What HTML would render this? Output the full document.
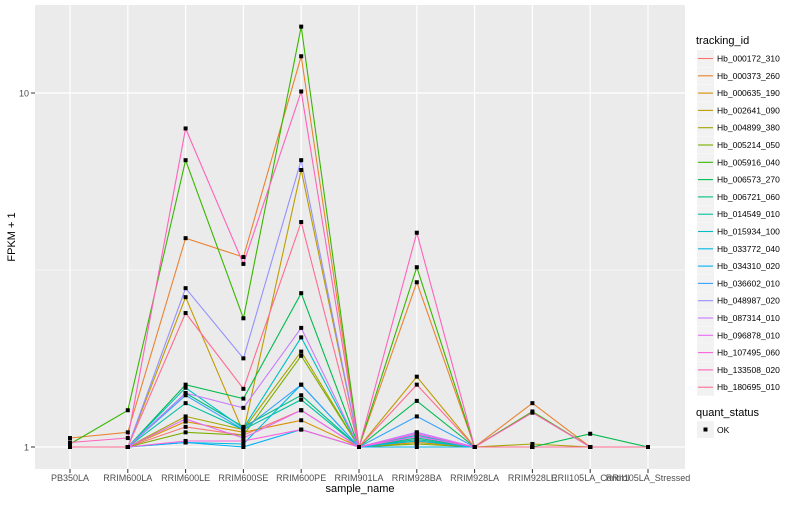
<!DOCTYPE html>
<html><head><meta charset="utf-8"><style>
body{margin:0;background:#fff;font-family:"Liberation Sans",sans-serif;}
svg text{font-family:"Liberation Sans",sans-serif;}
</style></head><body>
<svg id="chart" width="800" height="500" xmlns="http://www.w3.org/2000/svg">
<rect x="0" y="0" width="800" height="500" fill="#fff"/>
<rect x="35" y="5" width="650" height="464" fill="#EBEBEB"/>
<g id="grid"></g><g id="lines"></g><g id="pts"></g><g id="axes"></g><g id="legend"></g>
</svg>
<script>
const categories=["PB350LA","RRIM600LA","RRIM600LE","RRIM600SE","RRIM600PE","RRIM901LA","RRIM928BA","RRIM928LA","RRIM928LE","RRII105LA_Control","RRII105LA_Stressed"];
const seriesNames=["Hb_000172_310","Hb_000373_260","Hb_000635_190","Hb_002641_090","Hb_004899_380","Hb_005214_050","Hb_005916_040","Hb_006573_270","Hb_006721_060","Hb_014549_010","Hb_015934_100","Hb_033772_040","Hb_034310_020","Hb_036602_010","Hb_048987_020","Hb_087314_010","Hb_096878_010","Hb_107495_060","Hb_133508_020","Hb_180695_010"];
const colors=["#F8766D","#EA8331","#D89000","#C09B00","#A3A500","#7CAE00","#39B600","#00BB4E","#00BF7D","#00C1A3","#00BFC4","#00BAE0","#00B0F6","#35A2FF","#9590FF","#C77CFF","#E76BF3","#FA62DB","#FF62BC","#FF6C91"];
const s00=[1,1,1.14,1.08,1.27,1,1.05,1,1,1,1];
const s01=[1.06,1.10,3.89,3.44,12.7,1,2.92,1,1.33,1,1];
const s02=[1,1,1.18,1.10,1.19,1,1.03,1,1,1,1];
const s03=[1,1,2.65,1.10,6.06,1,1.58,1,1,1,1];
const s04=[1,1,1.22,1.12,1.86,1,1.04,1,1.02,1,1];
const s05=[1,1,1.10,1.08,1.81,1,1.02,1,1,1,1];
const s06=[1.02,1.27,6.46,2.31,15.4,1,3.22,1,1.26,1,1];
const s07=[1,1,1.50,1.37,2.72,1,1.35,1,1,1.09,1];
const s08=[1,1,1.42,1.14,1.40,1,1.06,1,1,1,1];
const s09=[1,1,1.33,1.12,1.36,1,1.05,1,1,1,1];
const s10=[1,1,1.47,1.13,2.04,1,1.08,1,1,1,1];
const s11=[1,1,1.03,1.02,1.50,1,1.04,1,1,1,1];
const s12=[1,1,1.03,1.0,1.12,1,1.0,1,1,1,1];
const s13=[1,1,1.40,1.12,1.50,1,1.22,1,1,1,1];
const s14=[1,1,2.81,1.78,6.46,1,1.10,1,1,1,1];
const s15=[1,1,1.42,1.29,2.17,1,1.10,1,1,1,1];
const s16=[1,1,1.20,1.06,1.27,1,1.07,1,1,1,1];
const s17=[1,1,1.04,1.04,1.12,1,1.09,1,1,1,1];
const s18=[1.03,1.06,7.94,3.29,10.1,1,4.03,1,1.25,1,1];
const s19=[1,1,2.39,1.46,4.32,1,1.50,1,1,1,1];
const seriesValues=[s00,s01,s02,s03,s04,s05,s06,s07,s08,s09,s10,s11,s12,s13,s14,s15,s16,s17,s18,s19];
const yTicks=[1,10];
const yMinor=[3.1623];
const NS="http://www.w3.org/2000/svg";
function xs(i){return 70+57.8*i;}
function ys(v){return 447-354*Math.log10(v);}
function mk(tag,attrs,parent){const e=document.createElementNS(NS,tag);for(const k in attrs)e.setAttribute(k,attrs[k]);document.getElementById(parent).appendChild(e);return e;}
yMinor.forEach(v=>{const l=mk('line',{x1:35,x2:685,y1:ys(v),y2:ys(v),stroke:'#fff','stroke-width':0.6},'grid');

});
yTicks.forEach(v=>{const l=mk('line',{x1:35,x2:685,y1:ys(v),y2:ys(v),stroke:'#fff','stroke-width':1.2},'grid');


const t=mk('line',{x1:31,x2:35,y1:ys(v),y2:ys(v),stroke:'#333','stroke-width':1},'axes');


const tx=mk('text',{x:29,y:ys(v)+3.5,'text-anchor':'end','font-size':9,fill:'#4d4d4d'},'axes');tx.textContent=String(v);

});
categories.forEach((c,i)=>{const l=mk('line',{x1:xs(i),x2:xs(i),y1:5,y2:469,stroke:'#fff','stroke-width':1.2},'grid');


const t=mk('line',{x1:xs(i),x2:xs(i),y1:469,y2:473,stroke:'#333','stroke-width':1},'axes');


const tx=mk('text',{x:xs(i),y:481,'text-anchor':'middle','font-size':9,fill:'#4d4d4d'},'axes');tx.textContent=c;

});
seriesValues.forEach((vals,s)=>{const d=vals.map((v,i)=>(i?'L':'M')+xs(i).toFixed(1)+','+ys(v).toFixed(1)).join(' ');
const p=mk('path',{d:d,fill:'none',stroke:colors[s],'stroke-width':1.1},'lines');


vals.forEach((v,i)=>{const r=mk('rect',{x:xs(i)-2,y:ys(v)-2,width:4,height:4,fill:'#000'},'pts');

});});
const xt=mk('text',{x:360,y:492,'text-anchor':'middle','font-size':11,fill:'#000'},'axes');xt.textContent='sample_name';


const yt=mk('text',{x:0,y:0,'text-anchor':'middle','font-size':11,fill:'#000',transform:'translate(15,237) rotate(-90)'},'axes');yt.textContent='FPKM + 1';


const lt=mk('text',{x:696,y:44,'font-size':11,fill:'#000'},'legend');lt.textContent='tracking_id';


seriesNames.forEach((n,i)=>{const y0=50+i*17.3;
const g=mk('g',{},'legend');


const b=document.createElementNS(NS,'rect');b.setAttribute('x',697);b.setAttribute('y',y0);b.setAttribute('width',17);b.setAttribute('height',17);b.setAttribute('fill','#F2F2F2');g.appendChild(b);
const l=document.createElementNS(NS,'line');l.setAttribute('x1',698);l.setAttribute('x2',713);l.setAttribute('y1',y0+8.5);l.setAttribute('y2',y0+8.5);l.setAttribute('stroke',colors[i]);l.setAttribute('stroke-width',1.1);g.appendChild(l);
const t=document.createElementNS(NS,'text');t.setAttribute('x',717);t.setAttribute('y',y0+11.5);t.setAttribute('font-size',8.5);t.setAttribute('fill','#000');t.textContent=n;g.appendChild(t);});
const qt=mk('text',{x:696,y:416,'font-size':11,fill:'#000'},'legend');qt.textContent='quant_status';


const og=mk('g',{},'legend');


const ob=document.createElementNS(NS,'rect');ob.setAttribute('x',697);ob.setAttribute('y',421);ob.setAttribute('width',17);ob.setAttribute('height',17);ob.setAttribute('fill','#F2F2F2');og.appendChild(ob);
const os=document.createElementNS(NS,'rect');os.setAttribute('x',703.5);os.setAttribute('y',427.5);os.setAttribute('width',4);os.setAttribute('height',4);os.setAttribute('fill','#000');og.appendChild(os);
const ot=document.createElementNS(NS,'text');ot.setAttribute('x',717);ot.setAttribute('y',433);ot.setAttribute('font-size',8.5);ot.textContent='OK';og.appendChild(ot);
</script>
</body></html>
